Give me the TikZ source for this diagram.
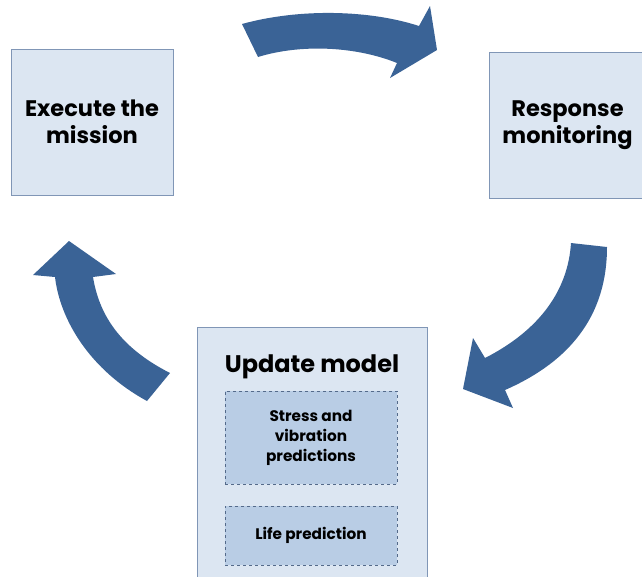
\documentclass[tikz,border=0pt]{standalone}
\usepackage{fontspec}
\setmainfont{Poppins}
\definecolor{cyclefill}{RGB}{220,230,242}
\definecolor{cycleline}{RGB}{128,150,182}
\definecolor{subfill}{RGB}{185,205,229}
\definecolor{subline}{RGB}{84,106,138}
\definecolor{cyclearrow}{RGB}{58,99,150}
\begin{document}
\begin{tikzpicture}[
                x=1pt, y=-1pt,
                stage/.style={draw=cycleline, fill=cyclefill, line width=0.8pt, rectangle, inner sep=0pt, align=center,
                              font=\fontsize{22.5}{27}\selectfont\bfseries},
                substage/.style={draw=subline, fill=subfill, dashed, line width=0.6pt, rectangle, inner sep=0pt, align=center,
                              font=\fontsize{15.3}{20}\selectfont\bfseries},
                turn/.style={fill=cyclearrow}
                ]

    \useasboundingbox (0,0) rectangle (642,576);

    \node [stage, minimum width=162pt, minimum height=146pt] (execute) at (92,122) {Execute the\\mission};
    \node [stage, minimum width=157pt, minimum height=146pt] (monitor) at (567.5,125) {Response\\monitoring};
    \node [stage, minimum width=230pt, minimum height=253pt] (update) at (312,453.5) {};
    \node [font=\fontsize{24}{28}\selectfont\bfseries] (updatetitle) at (312,367) {Update model};
    \node [substage, minimum width=172pt, minimum height=93pt] (stress) at (311,437.5) {Stress and\\vibration\\predictions};
    \node [substage, minimum width=172pt, minimum height=59pt] (life) at (311,535.5) {Life prediction};

    % curved block arrows of the cycle
    \fill [turn] (242,24) .. controls (300,8) and (370,10) .. (419,26)
                 -- (430,6) -- (437,50) -- (390,78) -- (397,63)
                 .. controls (355,46) and (300,44) .. (258,57) -- cycle;
    \fill [turn] (571,243) -- (607,247) .. controls (607,300) and (585,355) .. (505,390)
                 -- (513,408) -- (463,389) -- (473,338) -- (485,358)
                 .. controls (540,330) and (568,290) .. cycle;
    \fill [turn] (170,373) .. controls (125,350) and (100,320) .. (93,277)
                 -- (116,274) -- (69,241) -- (33,275) -- (55,277)
                 .. controls (60,320) and (90,370) .. (147,401) -- cycle;
\end{tikzpicture}
\end{document}
